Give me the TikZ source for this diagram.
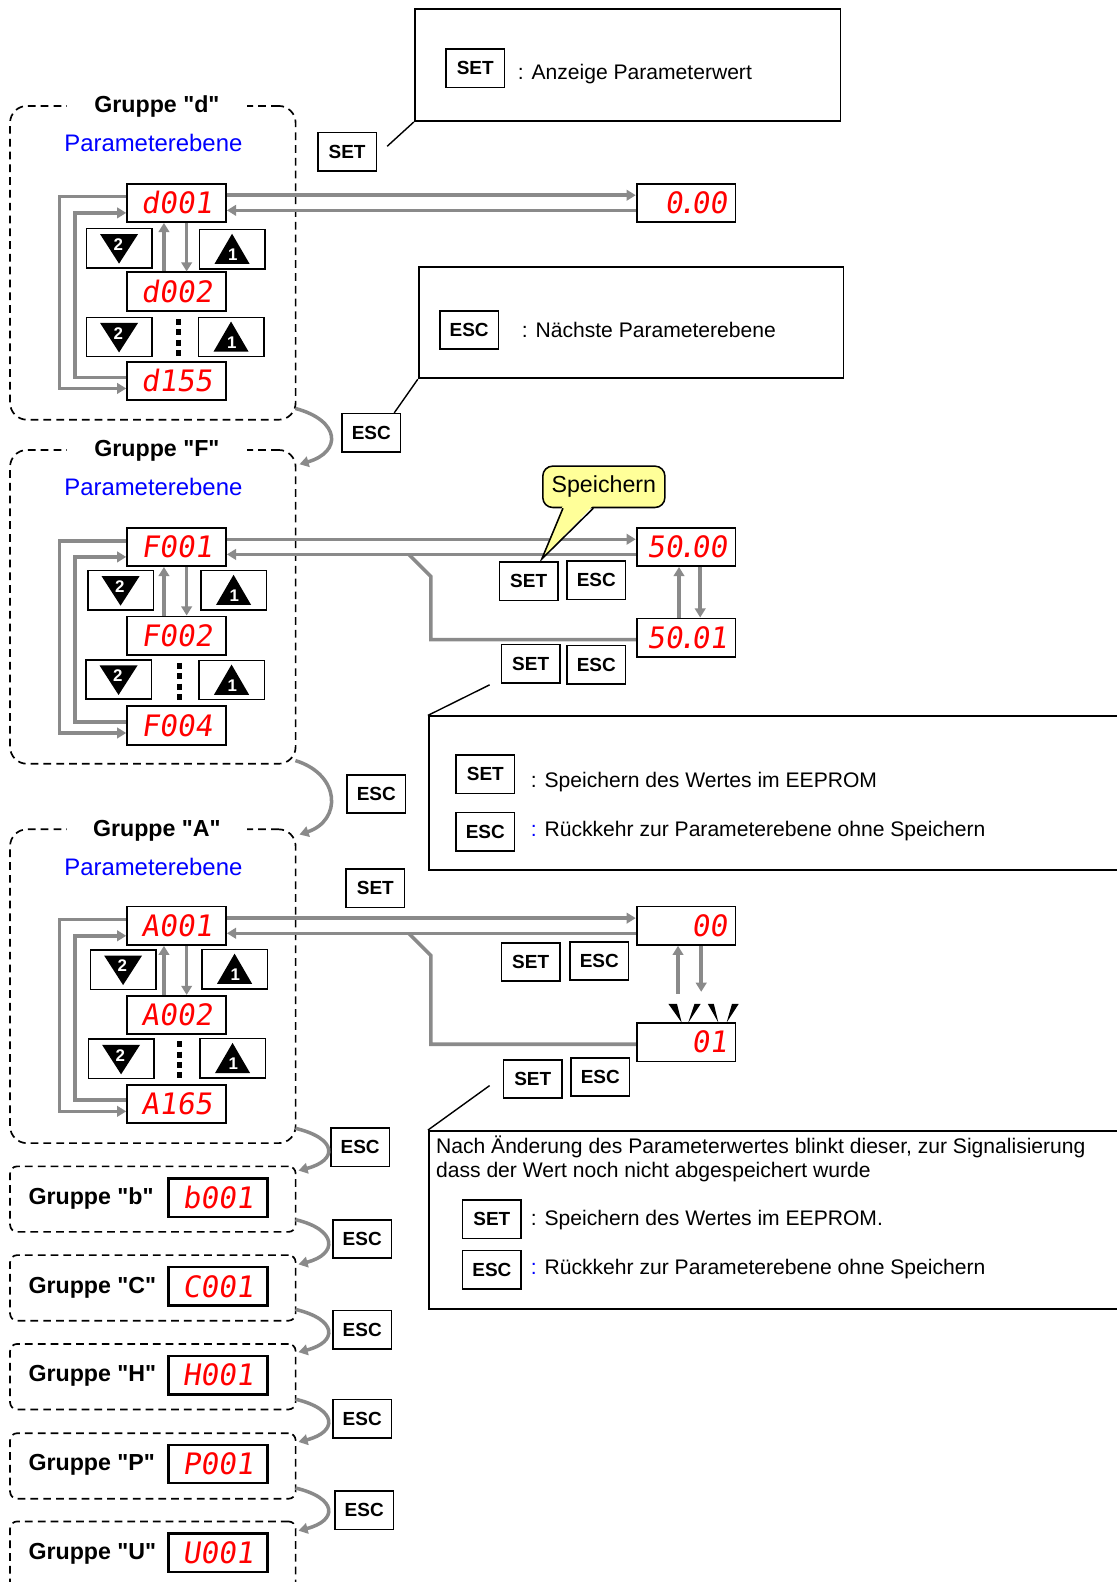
\documentclass[tikz,border=0pt]{standalone}
\usepackage{fontspec}
\setmainfont{Liberation Sans}[Ligatures=TeXOff]
\newfontfamily\segfont[FakeSlant=0.15]{DejaVu Sans Mono}
\usepackage{tikz}
\usetikzlibrary{arrows.meta}
\definecolor{segred}{HTML}{FF0000}
\definecolor{arrgray}{HTML}{8A8A8A}
\definecolor{callfill}{HTML}{FFFF99}
\definecolor{parblue}{HTML}{0000FF}
\newcommand{\segdot}{\kern-0.15em.\kern-0.15em}

\tikzset{
  keybox/.style={draw,line width=1.1pt,fill=white,minimum width=41.6pt,minimum height=27.3pt,inner sep=0pt,font=\fontsize{13.5}{15}\selectfont\bfseries},
  trikey/.style={draw,line width=1.1pt,minimum width=46.6pt,minimum height=28pt,inner sep=0pt},
  numtxt/.style={text=white,inner sep=0pt,font=\fontsize{12}{12}\selectfont\bfseries},
  dispbox/.style={draw,line width=1.3pt,fill=white,minimum width=70.3pt,minimum height=27.3pt,inner sep=0pt,text=segred,font=\segfont\fontsize{21}{21}\selectfont},
  valbox/.style={dispbox,text width=58pt,align=right},
  smalldisp/.style={dispbox,line width=1.8pt},
  grpbox/.style={draw,line width=1.2pt,dash pattern=on 5.5pt off 3.6pt,rounded corners=12pt,minimum width=203.1pt,minimum height=223.2pt,inner sep=0pt},
  grpsmall/.style={grpbox,rounded corners=5pt,minimum height=46.6pt},
  grptitle/.style={fill=white,inner ysep=1pt,inner xsep=0pt,minimum width=128.4pt,font=\fontsize{16.5}{18}\selectfont\bfseries},
  grptitlesm/.style={anchor=west,inner sep=0pt,font=\fontsize{16.5}{18}\selectfont\bfseries},
  paramtxt/.style={text=parblue,inner sep=0pt,font=\fontsize{17}{19}\selectfont},
  infobox/.style={draw,line width=1.3pt,inner sep=0pt},
  infotxt/.style={anchor=base west,inner sep=0pt,font=\fontsize{15}{18}\selectfont},
  callbox/.style={draw,line width=1.1pt,fill=callfill,rounded corners=7pt,minimum width=86.8pt,minimum height=29.4pt,inner sep=0pt,font=\fontsize{16.5}{18}\selectfont},
  flow/.style={draw=arrgray,line width=2.5pt,-{Triangle[length=6.5pt,width=7.5pt]}},
  flowline/.style={draw=arrgray,line width=2.5pt},
  leader/.style={draw,line width=1pt},
  segdots/.style={draw,line width=4pt,dash pattern=on 4.3pt off 3.1pt},
  dnkey/.pic={
    \node[trikey] (-box) {};
    \fill (-13.5pt,10pt) -- (13.5pt,10pt) -- (0,-11pt) -- cycle;
    \node[numtxt] at (-0.5pt,2.5pt) {2};
  },
  upkey/.pic={
    \node[trikey] (-box) {};
    \fill (0,11pt) -- (12.5pt,-10.5pt) -- (-12.5pt,-10.5pt) -- cycle;
    \node[numtxt] at (0.5pt,-4pt) {1};
  }
}

\begin{document}
\begin{tikzpicture}[x=0.02522cm,y=-0.02522cm]
  \useasboundingbox (0,0) rectangle (1107,1568);

  % Gruppe d
  \node[grpbox] (grpd) at (151.5,260.5) {};
  \node[grptitle] (titd) at (155.5,106) {Gruppe "d"};
  \node[paramtxt] (pard) at (152,142) {Parameterebene};
  \node[dispbox] (dd1) at (175,201) {d001};
  \node[dispbox] (dd2) at (175,289) {d002};
  \node[dispbox] (dd3) at (175,377.5) {d155};
  \pic (dnd1) at (118,246) {dnkey};
  \pic (upd1) at (230,247) {upkey};
  \pic (dnd2) at (118,334) {dnkey};
  \pic (upd2) at (229,334) {upkey};
  \draw[segdots] (177,316) -- (177,353);
  \node[valbox] (dval) at (680,201) {0\segdot 00};
  \draw[flow] ([shift={(0,-7.5)}]dd1.east) -- ([shift={(0,-7.5)}]dval.west);
  \draw[flow] ([shift={(0,7.5)}]dval.west) -- ([shift={(0,7.5)}]dd1.east);
  \draw[flow] ([shift={(0,-6)}]dd1.west) -- ++(-66,0) |- ([shift={(0,7.5)}]dd3.west);
  \draw[flow] ([shift={(0,-3.5)}]dd3.west) -- ++(-51,0) |- ([shift={(0,10)}]dd1.west);
  \draw[flow] ([shift={(-12.5,0)}]dd2.north) -- ([shift={(-12.5,0)}]dd1.south);
  \draw[flow] ([shift={(10,0)}]dd1.south) -- ([shift={(10,0)}]dd2.north);

  \node[infobox,minimum width=302.8pt,minimum height=79.7pt] (info1) at (622,64.5) {};
  \node[keybox] (seti1) at (471,67.5) {SET};
  \node[infotxt] (txti1) at (513,78.5) {: Anzeige Parameterwert};
  \node[keybox] (setd) at (344,150.5) {SET};
  \draw[leader] ([shift={(10,-5.5)}]setd.east) -- (info1.south west);

  \node[infobox,minimum width=302.1pt,minimum height=78.9pt] (info2) at (625.5,320) {};
  \node[keybox] (esci2) at (465,327) {ESC};
  \node[infotxt] (txti2) at (517,334.5) {: Nächste Parameterebene};
  \node[keybox] (escd) at (368,429) {ESC};
  \draw[leader] ([shift={(-7,0)}]escd.north east) -- (info2.south west);

  % Gruppe F
  \node[grpbox] (grpf) at (151.5,601.5) {};
  \node[grptitle] (titf) at (155.5,447) {Gruppe "F"};
  \node[paramtxt] (parf) at (152,483) {Parameterebene};
  \node[dispbox] (df1) at (175,542) {F001};
  \node[dispbox] (df2) at (175,630) {F002};
  \node[dispbox] (df3) at (175,719) {F004};
  \pic (dnf1) at (119.5,585) {dnkey};
  \pic (upf1) at (231.5,585) {upkey};
  \pic (dnf2) at (117.5,673.5) {dnkey};
  \pic (upf2) at (229.5,674) {upkey};
  \draw[segdots] (178,657) -- (178,694);
  \draw[flow] ([shift={(0,-6)}]df1.west) -- ++(-66,0) |- ([shift={(0,7.5)}]df3.west);
  \draw[flow] ([shift={(0,-3.5)}]df3.west) -- ++(-51,0) |- ([shift={(0,10)}]df1.west);
  \draw[flow] ([shift={(-12.5,0)}]df2.north) -- ([shift={(-12.5,0)}]df1.south);
  \draw[flow] ([shift={(10,0)}]df1.south) -- ([shift={(10,0)}]df2.north);
  \draw[flow] ([shift={(-1,-12)}]grpd.south east) .. controls +(45,12) and +(42,-12) .. ([shift={(3,15)}]grpf.north east);

  \node[valbox] (fv1) at (680,542) {50\segdot 00};
  \node[valbox] (fv2) at (680,632) {50\segdot 01};
  \draw[flow] ([shift={(0,-7.5)}]df1.east) -- ([shift={(0,-7.5)}]fv1.west);
  \draw[flow] ([shift={(0,7.5)}]fv1.west) -- ([shift={(0,7.5)}]df1.east);
  \draw[flowline] ([shift={(0,2)}]fv2.west) -| ++(-203,-62.5) -- ++(-22,-22);
  \draw[flow] ([shift={(-7,0)}]fv2.north) -- ([shift={(-7,0)}]fv1.south);
  \draw[flow] ([shift={(14,0)}]fv1.south) -- ([shift={(14,0)}]fv2.north);
  \node[keybox] (setf1) at (524,576) {SET};
  \node[keybox] (escf1) at (591,575) {ESC};
  \node[keybox] (setf2) at (526,658) {SET};
  \node[keybox] (escf2) at (591,659) {ESC};

  \node[callbox] (speich) at (598.5,482.5) {Speichern};
  \coordinate (speichtip) at (537,554);
  \fill[callfill] ([shift={(-40.5,-3)}]speich.south) -- (speichtip) -- ([shift={(-10.5,-3)}]speich.south) -- cycle;
  \draw[line width=1.1pt] ([shift={(-40.5,0)}]speich.south) -- (speichtip) -- ([shift={(-10.5,0)}]speich.south);

  \node[infobox,minimum width=505.9pt,minimum height=109.1pt] (info3) at (777.5,786) {};
  \node[keybox] (seti3) at (481,767.5) {SET};
  \node[infotxt] (txti3a) at (526,781) {: Speichern des Wertes im EEPROM};
  \node[keybox] (esci3) at (481,824.5) {ESC};
  \node[infotxt] (txti3b) at (526,829) {{\color{parblue}:} Rückkehr zur Parameterebene ohne Speichern};
  \draw[leader] ([shift={(-11,1)}]setf2.south west) -- (info3.north west);

  \node[keybox] (escf) at (373,787) {ESC};

  % Gruppe A
  \node[grpbox] (grpa) at (151.5,977.5) {};
  \node[grptitle] (tita) at (155.5,823) {Gruppe "A"};
  \node[paramtxt] (para) at (152,859) {Parameterebene};
  \node[dispbox] (da1) at (175,917.5) {A001};
  \node[dispbox] (da2) at (175,1006) {A002};
  \node[dispbox] (da3) at (175,1094) {A165};
  \pic (dna1) at (122,961) {dnkey};
  \pic (upa1) at (232.5,960.5) {upkey};
  \pic (dna2) at (120,1049.5) {dnkey};
  \pic (upa2) at (230.5,1049) {upkey};
  \draw[segdots] (178,1032) -- (178,1069);
  \draw[flow] ([shift={(0,-6)}]da1.west) -- ++(-66,0) |- ([shift={(0,7.5)}]da3.west);
  \draw[flow] ([shift={(0,-3.5)}]da3.west) -- ++(-51,0) |- ([shift={(0,10)}]da1.west);
  \draw[flow] ([shift={(-12.5,0)}]da2.north) -- ([shift={(-12.5,0)}]da1.south);
  \draw[flow] ([shift={(10,0)}]da1.south) -- ([shift={(10,0)}]da2.north);
  \draw[flow] ([shift={(-1,-4)}]grpf.south east) .. controls +(45,14) and +(42,-14) .. ([shift={(3,6)}]grpa.north east);

  \node[keybox] (seta) at (372,880.5) {SET};
  \node[valbox] (av1) at (680,917.5) {00};
  \node[valbox] (av2) at (680,1033) {01};
  \draw[flow] ([shift={(0,-7.5)}]da1.east) -- ([shift={(0,-7.5)}]av1.west);
  \draw[flow] ([shift={(0,7.5)}]av1.west) -- ([shift={(0,7.5)}]da1.east);
  \draw[flowline] ([shift={(0,2)}]av2.west) -| ++(-203,-88) -- ++(-22,-22);
  \draw[flow] ([shift={(-8,-28)}]av2.north) -- ([shift={(-8,0)}]av1.south);
  \draw[flow] ([shift={(15,0)}]av1.south) -- ([shift={(15,-30)}]av2.north);
  \fill (662.5,995) -- (671,995) -- (675.6,1013.5) -- cycle;
  \fill (688.3,995) -- (694.5,995) -- (682.2,1013.5) -- cycle;
  \fill (701.5,995) -- (707.5,995) -- (712,1013.5) -- cycle;
  \fill (725.5,995) -- (732.2,995) -- (720.2,1013.5) -- cycle;
  \node[keybox] (seta1) at (526,953.5) {SET};
  \node[keybox] (esca1) at (594,952.5) {ESC};
  \node[keybox] (seta2) at (528,1069.5) {SET};
  \node[keybox] (esca2) at (595,1067.5) {ESC};

  \node[infobox,minimum width=505.9pt,minimum height=126.3pt] (info4) at (777.5,1209) {};
  \node[infotxt] (txti4a) at (432,1143) {Nach Änderung des Parameterwertes blinkt dieser, zur Signalisierung};
  \node[infotxt] (txti4b) at (432,1167) {dass der Wert noch nicht abgespeichert wurde};
  \node[keybox] (seti4) at (487.5,1208.5) {SET};
  \node[infotxt] (txti4c) at (526,1215) {: Speichern des Wertes im EEPROM.};
  \node[keybox] (esci4) at (487.5,1258.5) {ESC};
  \node[infotxt] (txti4d) at (526,1263) {{\color{parblue}:} Rückkehr zur Parameterebene ohne Speichern};
  \draw[leader] ([shift={(-13,6.5)}]seta2.west) -- (info4.north west);

  % Gruppen b, C, H, P, U
  \node[grpsmall] (grpb) at (151.5,1188.5) {};
  \node[grptitlesm] (titb) at (28,1188) {Gruppe "b"};
  \node[smalldisp] (db) at (216,1187) {b001};
  \node[keybox] (esca) at (357,1137) {ESC};
  \draw[flow] ([shift={(-1,-15.5)}]grpa.south east) .. controls +(42,10) and +(39,-10) .. ([shift={(2,5)}]grpb.north east);

  \node[grpsmall] (grpc) at (151.5,1276.5) {};
  \node[grptitlesm] (titc) at (28,1276) {Gruppe "C"};
  \node[smalldisp] (dc) at (216,1275) {C001};
  \node[keybox] (escb) at (359,1228) {ESC};
  \draw[flow] ([shift={(-1,-13)}]grpb.south east) .. controls +(42,10) and +(39,-10) .. ([shift={(2,10)}]grpc.north east);

  \node[grpsmall] (grph) at (151.5,1364.5) {};
  \node[grptitlesm] (tith) at (28,1364) {Gruppe "H"};
  \node[smalldisp] (dh) at (216,1363) {H001};
  \node[keybox] (escc) at (359,1318) {ESC};
  \draw[flow] ([shift={(-1,-12)}]grpc.south east) .. controls +(42,10) and +(39,-10) .. ([shift={(2,9)}]grph.north east);

  \node[grpsmall] (grpp) at (151.5,1453) {};
  \node[grptitlesm] (titp) at (28,1452) {Gruppe "P"};
  \node[smalldisp] (dp) at (216,1451) {P001};
  \node[keybox] (esch) at (359,1406) {ESC};
  \draw[flow] ([shift={(-1,-11)}]grph.south east) .. controls +(42,10) and +(39,-10) .. ([shift={(2,9.5)}]grpp.north east);

  \node[grpsmall,minimum height=71.8pt] (grpu) at (151.5,1558) {};
  \node[grptitlesm] (titu) at (28,1540) {Gruppe "U"};
  \node[smalldisp] (du) at (216,1539) {U001};
  \node[keybox] (escp) at (361,1497) {ESC};
  \draw[flow] ([shift={(-1,-11.5)}]grpp.south east) .. controls +(42,10) and +(39,-10) .. ([shift={(2,10)}]grpu.north east);
\end{tikzpicture}
\end{document}
